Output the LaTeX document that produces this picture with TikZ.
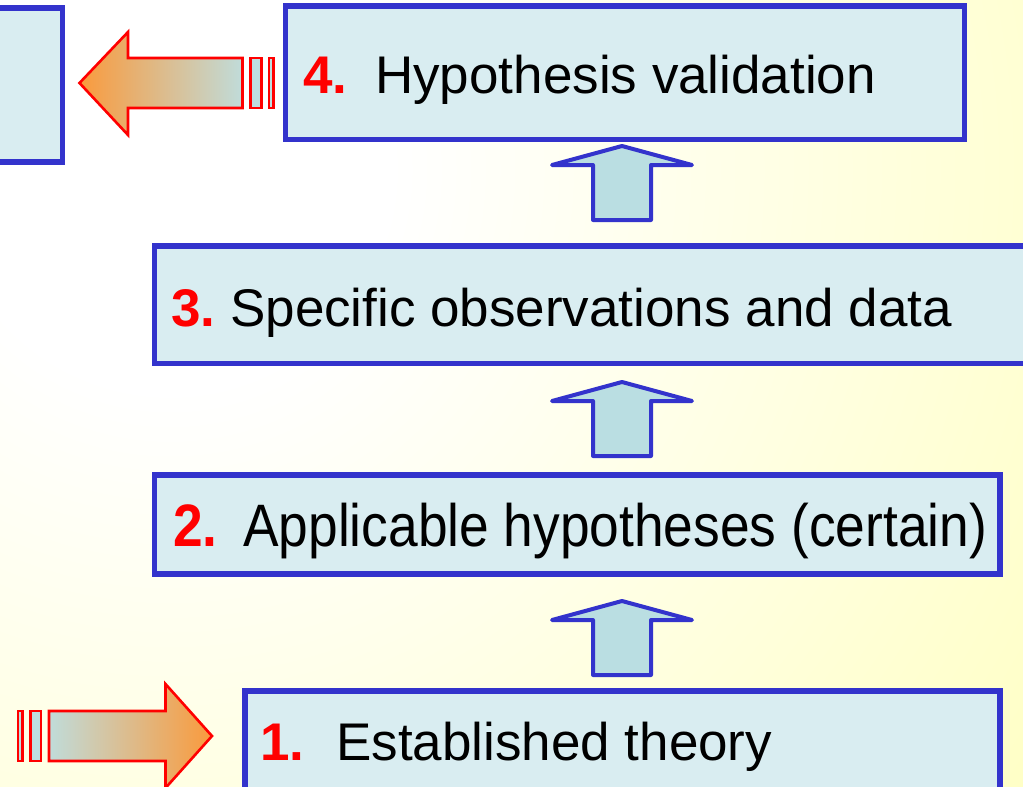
\documentclass[tikz,border=0pt]{standalone}
\usepackage{fontspec}
\usepackage{graphicx}
\setmainfont{Liberation Sans}
\definecolor{bgyellow}{RGB}{255,255,192}
\definecolor{boxblue}{RGB}{51,51,204}
\definecolor{boxfill}{RGB}{217,237,241}
\definecolor{upfill}{RGB}{186,222,226}
\definecolor{arrorange}{RGB}{250,154,60}
\definecolor{arrlight}{RGB}{192,220,218}
\definecolor{stripefill}{RGB}{190,222,224}
\pgfdeclareradialshading{bgshade}{\pgfpoint{0bp}{0bp}}{color(0bp)=(white); color(5bp)=(white); color(26bp)=(bgyellow); color(50bp)=(bgyellow)}
\tikzset{
  box/.style={draw=boxblue, line width=5.5pt, fill=boxfill, inner sep=0pt, outer sep=0pt},
  upshape/.style={draw=boxblue, line width=4pt, fill=upfill, line join=round},
  redshape/.style={draw=red, line width=2.6pt, line join=miter},
  stripe/.style={draw=red, line width=2.6pt, fill=stripefill},
  num/.style={anchor=base west, inner sep=0pt, text=red, font=\fontsize{53}{64}\selectfont\bfseries},
  lbl/.style={anchor=base west, inner sep=0pt, text=black, font=\fontsize{53}{64}\selectfont},
  uparrowpic/.pic={\filldraw[upshape] (0,0) -- (-70,19) -- (-29,19) -- (-29,74) -- (29,74) -- (29,19) -- (70,19) -- cycle;}
}
\begin{document}
\begin{tikzpicture}[x=1pt, y=-1pt]
\useasboundingbox (0,0) rectangle (1023,787);
\clip (0,0) rectangle (1023,787);
% background
\shade[shading=bgshade] (170,170) circle (1100);
% boxes
\node[box, minimum width=72.5pt, minimum height=154pt] (b0) at (26.25,85) {};
\node[box, minimum width=679pt, minimum height=133.5pt] (b4) at (625,72.75) {};
\node[box, minimum width=880.5pt, minimum height=117.5pt] (b3) at (594.75,304.75) {};
\node[box, minimum width=845.5pt, minimum height=99pt] (b2) at (577.25,524.5) {};
\node[box, minimum width=755pt, minimum height=109pt] (b1) at (622.5,745.5) {};
% up arrows
\path (622,146) pic {uparrowpic};
\path (622,382) pic {uparrowpic};
\path (622,601) pic {uparrowpic};
% left arrow (top)
\shade[redshape, left color=arrorange, right color=arrlight]
  (79.5,83) -- (128,32) -- (128,58) -- (242.5,58) -- (242.5,108) -- (128,108) -- (128,135) -- cycle;
\filldraw[stripe] (250.6,58) rectangle (261.3,108);
\filldraw[stripe] (269,58) rectangle (273.7,108);
% right arrow (bottom)
\shade[redshape, left color=arrlight, right color=arrorange]
  (49,711) -- (165.5,711) -- (165.5,684) -- (212,736) -- (165.5,788) -- (165.5,761) -- (49,761) -- cycle;
\filldraw[stripe] (18,711) rectangle (22.7,761);
\filldraw[stripe] (30.7,711) rectangle (41,761);
% texts
\node[num] (n4) at (303,93) {4.};
\node[lbl] (t4) at (375,93) {Hypothesis validation};
\node[num] (n3) at (171,326) {3.};
\node[lbl] (t3) at (230,326) {Specific observations and data};
\node[num] (n2) at (173,546) {\scalebox{1.005}[1.13]{2.}};
\node[lbl] (t2) at (243,546) {\scalebox{1.006}[1.13]{Applicable hypotheses (certain)}};
\node[num] (n1) at (260,760) {1.};
\node[lbl] (t1) at (336,760) {Established theory};
\end{tikzpicture}
\end{document}
